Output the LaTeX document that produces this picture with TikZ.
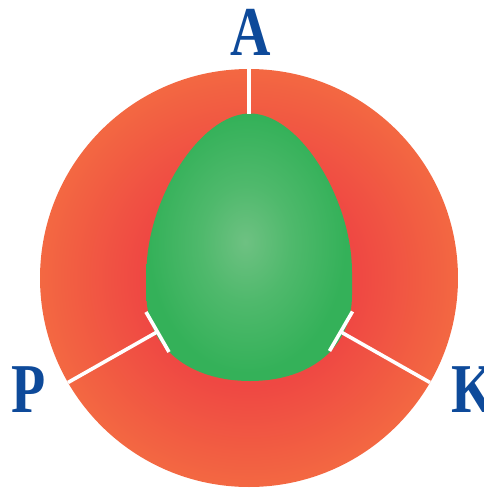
\documentclass[tikz,border=0pt]{standalone}
\usepackage{fontspec}
\usepackage{graphicx}
\setmainfont{Liberation Serif}
\definecolor{rin}{HTML}{EE4242}
\definecolor{rmid}{HTML}{EF4843}
\definecolor{rout}{HTML}{F36842}
\definecolor{gin}{HTML}{6EC182}
\definecolor{gmid}{HTML}{4FB96C}
\definecolor{gout}{HTML}{34B159}
\definecolor{lblue}{HTML}{0E4A9A}
\pgfdeclareradialshading{redshade}{\pgfpoint{0bp}{0bp}}{color(0bp)=(rin); color(13bp)=(rmid); color(25bp)=(rout); color(50bp)=(rout)}
\pgfdeclareradialshading{greenshade}{\pgfpoint{-1bp}{1bp}}{color(0bp)=(gin); color(11bp)=(gmid); color(24bp)=(gout); color(50bp)=(gout)}
\newcommand\lblglyph[1]{\scalebox{0.8}[1]{#1}}
\tikzset{
  divider/.style={draw=white, line width=3.6pt},
  lbl/.style={text=lblue, inner sep=0pt, font=\fontsize{70}{72}\selectfont\bfseries},
}
\begin{document}
\begin{tikzpicture}[x=1pt,y=-1pt]
\useasboundingbox (0,0) rectangle (484,488);
\clip (0,0) rectangle (484,488);
\coordinate (O) at (249,278);
% outer disc
\shade[shading=redshade] (O) circle[radius=209];
% egg
\shade[shading=greenshade] (250,113.5)
  .. controls (300,113.5) and (352,200) .. (352,272)
  .. controls (352,290) and (352,292) .. (352,295)
  .. controls (352,348) and (310,381) .. (250,381)
  .. controls (190,381) and (146.5,348) .. (146.5,295)
  .. controls (146.5,292) and (146.5,290) .. (146.5,272)
  .. controls (146.5,200) and (200,113.5) .. (250,113.5) -- cycle;
% dividers
\coordinate (Etop) at (249,69);
\coordinate (Jtop) at (249,114);
\coordinate (Eleft) at (68,382.5);
\coordinate (Jleft) at (157,332);
\coordinate (Tl1) at (146,312);
\coordinate (Tl2) at (169,352);
\coordinate (Eright) at (430,382.5);
\coordinate (Jright) at (341,332);
\coordinate (Tr1) at (352.5,311.5);
\coordinate (Tr2) at (329.5,351);
\draw[divider] (Etop) -- (Jtop);
\draw[divider] (Eleft) -- (Jleft);
\draw[divider] (Tl1) -- (Tl2);
\draw[divider] (Eright) -- (Jright);
\draw[divider] (Tr1) -- (Tr2);
% labels
\node[lbl, anchor=base] (A) at (251,55) {\lblglyph{A}};
\node[lbl, anchor=base west] (P) at (11,412) {\lblglyph{P}};
\node[lbl, anchor=base west] (K) at (451,412) {\lblglyph{K}};
\end{tikzpicture}
\end{document}
